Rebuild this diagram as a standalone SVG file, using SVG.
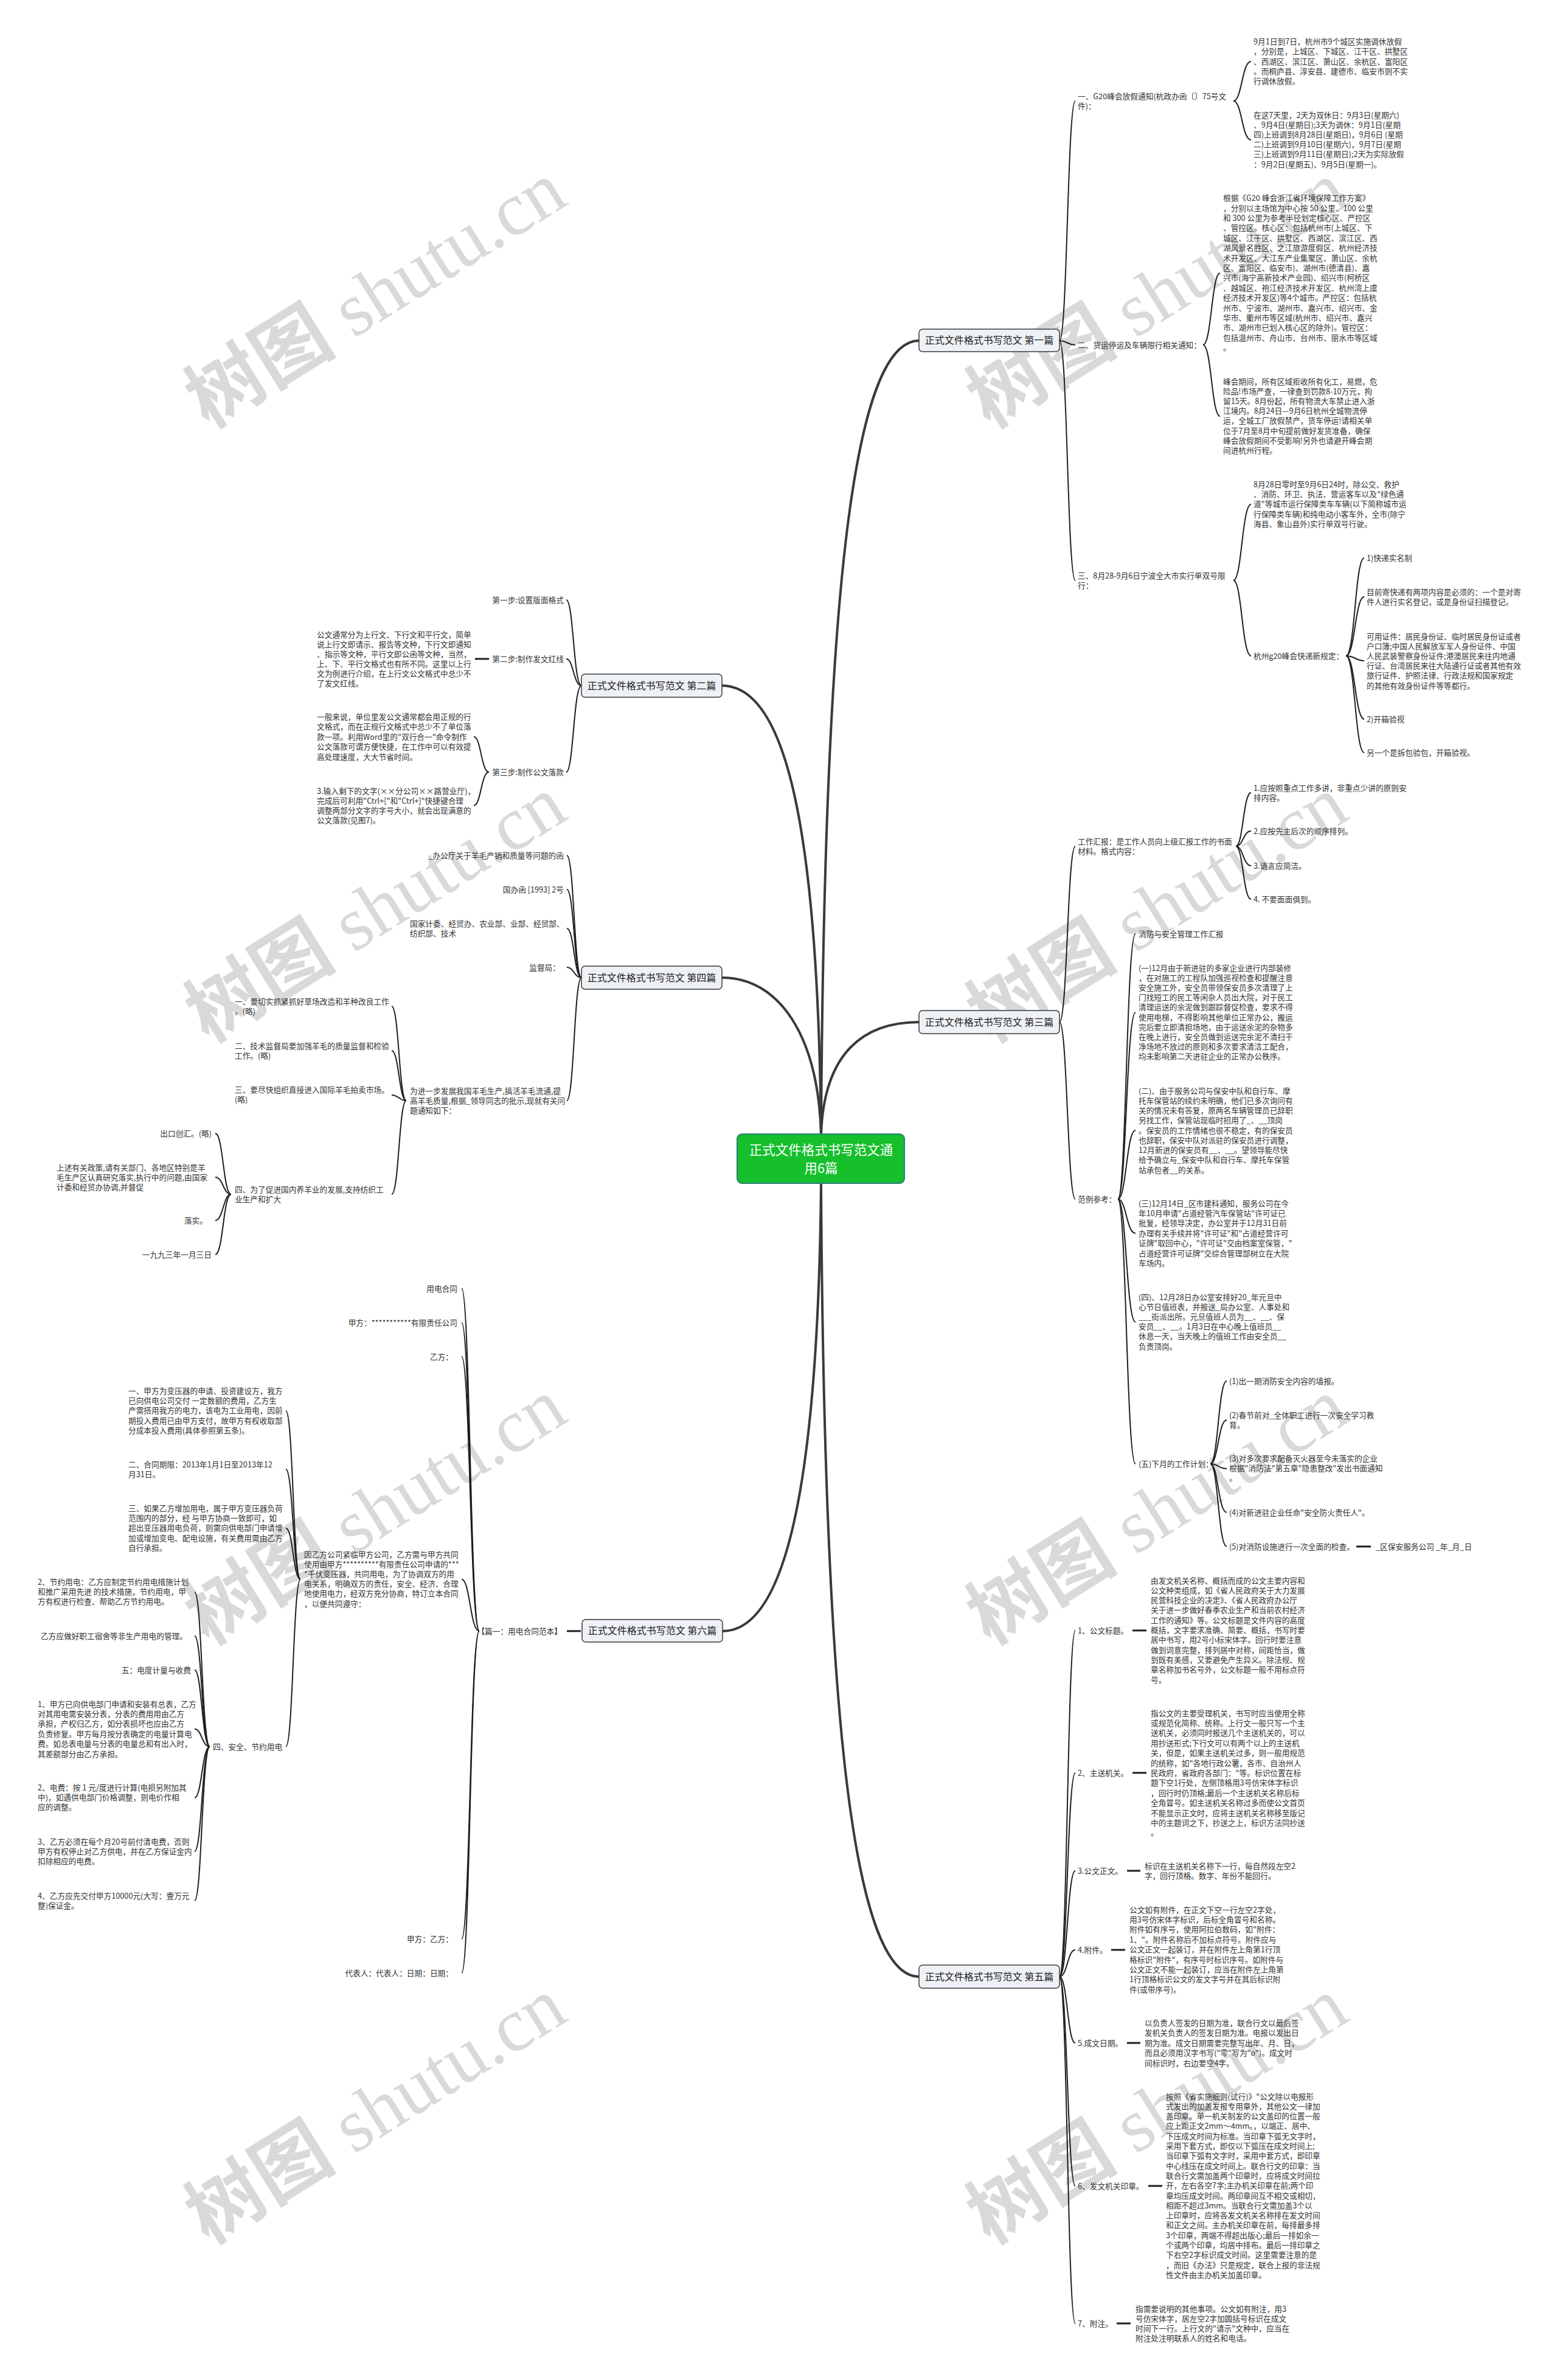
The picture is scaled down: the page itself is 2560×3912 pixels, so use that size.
<svg xmlns="http://www.w3.org/2000/svg" width="2560" height="3912" viewBox="0 0 2560 3912">
<style>
.t{font-family:"Noto Sans CJK SC","Noto Sans",sans-serif;font-size:12.7px;fill:#333}
.e{text-anchor:end}
.bt{font-family:"Noto Sans CJK SC","Noto Sans",sans-serif;font-size:16px;fill:#222;text-anchor:middle}
.rt{font-family:"Noto Sans CJK SC","Noto Sans",sans-serif;font-size:21.5px;fill:#fff;text-anchor:middle}
.box{fill:#eef1f5;stroke:#3a3a3a;stroke-width:1.5}
.root{fill:#16bf2c;stroke:#2c7f7a;stroke-width:2}
.c{fill:none;stroke:#1e1e1e;stroke-width:2}
.m{fill:none;stroke:#3a3a3a;stroke-width:4}
.d{fill:none;stroke:#1e1e1e;stroke-width:3}
.wm{fill:#d9d9d9;text-anchor:middle}
.wc{font-family:"Noto Sans CJK SC",sans-serif;font-weight:bold}
.ws{font-family:"Liberation Serif",serif}
</style>
<g id="watermarks">
<text class="wm" font-size="125" transform="translate(640,520) rotate(-32)"><tspan class="wc">树图</tspan><tspan class="ws"> shutu.cn</tspan></text>
<text class="wm" font-size="125" transform="translate(1925,520) rotate(-32)"><tspan class="wc">树图</tspan><tspan class="ws"> shutu.cn</tspan></text>
<text class="wm" font-size="125" transform="translate(640,1530) rotate(-32)"><tspan class="wc">树图</tspan><tspan class="ws"> shutu.cn</tspan></text>
<text class="wm" font-size="125" transform="translate(1925,1530) rotate(-32)"><tspan class="wc">树图</tspan><tspan class="ws"> shutu.cn</tspan></text>
<text class="wm" font-size="125" transform="translate(640,2520) rotate(-32)"><tspan class="wc">树图</tspan><tspan class="ws"> shutu.cn</tspan></text>
<text class="wm" font-size="125" transform="translate(1925,2520) rotate(-32)"><tspan class="wc">树图</tspan><tspan class="ws"> shutu.cn</tspan></text>
<text class="wm" font-size="125" transform="translate(640,3505) rotate(-32)"><tspan class="wc">树图</tspan><tspan class="ws"> shutu.cn</tspan></text>
<text class="wm" font-size="125" transform="translate(1925,3505) rotate(-32)"><tspan class="wc">树图</tspan><tspan class="ws"> shutu.cn</tspan></text>
</g>
<g id="connectors">
<path class="m" d="M1350 1864 C1355 1000 1400 560 1511 560"/>
<path class="m" d="M1350 1864 C1345 1350 1290 1127 1187 1127"/>
<path class="m" d="M1350 1864 C1355 1730 1420 1680 1511 1680"/>
<path class="m" d="M1350 1864 C1345 1700 1280 1607 1187 1607"/>
<path class="m" d="M1350 1945 C1355 2800 1400 3249 1511 3249"/>
<path class="m" d="M1350 1945 C1345 2450 1290 2681 1188 2681"/>
<path class="c" d="M1742 560 C1755 560 1755 166 1768 166"/>
<path class="c" d="M1742 560 C1755 560 1755 567 1768 567"/>
<path class="c" d="M1742 560 C1755 560 1755 954 1768 954"/>
<path class="c" d="M2028 166 C2042 166 2042 101 2057 101"/>
<path class="c" d="M2028 166 C2042 166 2042 230 2057 230"/>
<path class="c" d="M1978 567 C1992 567 1992 449 2006 449"/>
<path class="c" d="M1978 567 C1992 567 1992 684 2006 684"/>
<path class="c" d="M2028 954 C2042 954 2042 829 2057 829"/>
<path class="c" d="M2028 954 C2042 954 2042 1078 2057 1078"/>
<path class="c" d="M2213 1078 C2228 1078 2228 917 2243 917"/>
<path class="c" d="M2213 1078 C2228 1078 2228 981 2243 981"/>
<path class="c" d="M2213 1078 C2228 1078 2228 1086 2243 1086"/>
<path class="c" d="M2213 1078 C2228 1078 2228 1182 2243 1182"/>
<path class="c" d="M2213 1078 C2228 1078 2228 1237 2243 1237"/>
<path class="c" d="M1742 1680 C1755 1680 1755 1391 1768 1391"/>
<path class="c" d="M1742 1680 C1755 1680 1755 1971 1768 1971"/>
<path class="c" d="M2032 1391 C2044 1391 2044 1303 2057 1303"/>
<path class="c" d="M2032 1391 C2044 1391 2044 1366 2057 1366"/>
<path class="c" d="M2032 1391 C2044 1391 2044 1423 2057 1423"/>
<path class="c" d="M2032 1391 C2044 1391 2044 1478 2057 1478"/>
<path class="c" d="M1838 1971 C1852 1971 1852 1535 1867 1535"/>
<path class="c" d="M1838 1971 C1852 1971 1852 1664 1867 1664"/>
<path class="c" d="M1838 1971 C1852 1971 1852 1858 1867 1858"/>
<path class="c" d="M1838 1971 C1852 1971 1852 2027 1867 2027"/>
<path class="c" d="M1838 1971 C1852 1971 1852 2173 1867 2173"/>
<path class="c" d="M1838 1971 C1852 1971 1852 2406 1867 2406"/>
<path class="c" d="M1990 2406 C2003 2406 2003 2270 2017 2270"/>
<path class="c" d="M1990 2406 C2003 2406 2003 2334 2017 2334"/>
<path class="c" d="M1990 2406 C2003 2406 2003 2414 2017 2414"/>
<path class="c" d="M1990 2406 C2003 2406 2003 2486 2017 2486"/>
<path class="c" d="M1990 2406 C2003 2406 2003 2542 2017 2542"/>
<path class="d" d="M2230 2542 H2254"/>
<path class="c" d="M1742 3249 C1755 3249 1755 2680 1768 2680"/>
<path class="c" d="M1742 3249 C1755 3249 1755 2914 1768 2914"/>
<path class="c" d="M1742 3249 C1755 3249 1755 3075 1768 3075"/>
<path class="c" d="M1742 3249 C1755 3249 1755 3205 1768 3205"/>
<path class="c" d="M1742 3249 C1755 3249 1755 3358 1768 3358"/>
<path class="c" d="M1742 3249 C1755 3249 1755 3593 1768 3593"/>
<path class="c" d="M1742 3249 C1755 3249 1755 3819 1768 3819"/>
<path class="d" d="M1862 2680 H1885"/>
<path class="d" d="M1862 2914 H1885"/>
<path class="d" d="M1853 3075 H1875"/>
<path class="d" d="M1827 3205 H1850"/>
<path class="d" d="M1853 3358 H1875"/>
<path class="d" d="M1888 3593 H1911"/>
<path class="d" d="M1836 3819 H1859"/>
<path class="c" d="M956 1127 C943 1127 943 986 931 986"/>
<path class="c" d="M956 1127 C943 1127 943 1083 931 1083"/>
<path class="c" d="M956 1127 C943 1127 943 1269 931 1269"/>
<path class="d" d="M781 1083 H804"/>
<path class="c" d="M804 1269 C791 1269 791 1211 779 1211"/>
<path class="c" d="M804 1269 C791 1269 791 1324 779 1324"/>
<path class="c" d="M956 1607 C944 1607 944 1406 932 1406"/>
<path class="c" d="M956 1607 C944 1607 944 1462 932 1462"/>
<path class="c" d="M956 1607 C944 1607 944 1526 932 1526"/>
<path class="c" d="M956 1607 C944 1607 944 1590 932 1590"/>
<path class="c" d="M956 1607 C944 1607 944 1809 932 1809"/>
<path class="c" d="M668 1809 C656 1809 656 1654 644 1654"/>
<path class="c" d="M668 1809 C656 1809 656 1727 644 1727"/>
<path class="c" d="M668 1809 C656 1809 656 1800 644 1800"/>
<path class="c" d="M668 1809 C656 1809 656 1963 644 1963"/>
<path class="c" d="M380 1963 C367 1963 367 1863 354 1863"/>
<path class="c" d="M380 1963 C367 1963 367 1935 354 1935"/>
<path class="c" d="M380 1963 C367 1963 367 2006 354 2006"/>
<path class="c" d="M380 1963 C367 1963 367 2062 354 2062"/>
<path class="d" d="M932 2681 H955"/>
<path class="c" d="M788 2681 C773 2681 773 2118 759 2118"/>
<path class="c" d="M788 2681 C773 2681 773 2174 759 2174"/>
<path class="c" d="M788 2681 C773 2681 773 2230 759 2230"/>
<path class="c" d="M788 2681 C773 2681 773 2596 759 2596"/>
<path class="c" d="M788 2681 C773 2681 773 3187 759 3187"/>
<path class="c" d="M788 2681 C773 2681 773 3243 759 3243"/>
<path class="c" d="M494 2596 C482 2596 482 2319 470 2319"/>
<path class="c" d="M494 2596 C482 2596 482 2415 470 2415"/>
<path class="c" d="M494 2596 C482 2596 482 2512 470 2512"/>
<path class="c" d="M494 2596 C482 2596 482 2871 470 2871"/>
<path class="c" d="M345 2871 C332 2871 332 2617 320 2617"/>
<path class="c" d="M345 2871 C332 2871 332 2689 320 2689"/>
<path class="c" d="M345 2871 C332 2871 332 2745 320 2745"/>
<path class="c" d="M345 2871 C332 2871 332 2842 320 2842"/>
<path class="c" d="M345 2871 C332 2871 332 2955 320 2955"/>
<path class="c" d="M345 2871 C332 2871 332 3043 320 3043"/>
<path class="c" d="M345 2871 C332 2871 332 3124 320 3124"/>
</g>
<g id="root"><rect class="root" x="1212" y="1864" width="275" height="81" rx="8"/><text class="rt"><tspan x="1350" y="1897.5">正式文件格式书写范文通</tspan><tspan x="1350" y="1927.5">用6篇</tspan></text></g>
<g id="b1"><rect class="box" x="1511" y="541" width="231" height="37" rx="6"/><text class="bt" x="1626.5" y="565">正式文件格式书写范文 第一篇</text></g>
<g id="b2"><rect class="box" x="956" y="1108" width="231" height="38" rx="6"/><text class="bt" x="1071.5" y="1132.5">正式文件格式书写范文 第二篇</text></g>
<g id="b3"><rect class="box" x="1511" y="1661" width="231" height="38" rx="6"/><text class="bt" x="1626.5" y="1685.5">正式文件格式书写范文 第三篇</text></g>
<g id="b4"><rect class="box" x="956" y="1588" width="231" height="38" rx="6"/><text class="bt" x="1071.5" y="1612.5">正式文件格式书写范文 第四篇</text></g>
<g id="b5"><rect class="box" x="1511" y="3230" width="231" height="38" rx="6"/><text class="bt" x="1626.5" y="3254.5">正式文件格式书写范文 第五篇</text></g>
<g id="b6"><rect class="box" x="957" y="2662" width="231" height="37" rx="6"/><text class="bt" x="1072.5" y="2686">正式文件格式书写范文 第六篇</text></g>

<g id="n1a"><text class="t"><tspan x="1772" y="162.5">一、G20峰会放假通知(杭政办函〔〕75号文</tspan><tspan x="1772" y="178.8">件)：</tspan></text></g>
<g id="n1aA"><text class="t"><tspan x="2061" y="73.1">9月1日到7日，杭州市9个城区实施调休放假</tspan><tspan x="2061" y="89.4">，分别是，上城区、下城区、江干区、拱墅区</tspan><tspan x="2061" y="105.7">、西湖区、滨江区、萧山区、余杭区、富阳区</tspan><tspan x="2061" y="122">。而桐庐县、淳安县、建德市、临安市则不实</tspan><tspan x="2061" y="138.3">行调休放假。</tspan></text></g>
<g id="n1aB"><text class="t"><tspan x="2061" y="193.5">在这7天里，2天为双休日：9月3日(星期六)</tspan><tspan x="2061" y="209.7">、9月4日(星期日);3天为调休：9月1日(星期</tspan><tspan x="2061" y="225.9">四)上班调到8月28日(星期日)，9月6日 (星期</tspan><tspan x="2061" y="242.1">二)上班调到9月10日(星期六)，9月7日(星期</tspan><tspan x="2061" y="258.3">三)上班调到9月11日(星期日);2天为实际放假</tspan><tspan x="2061" y="274.5">：9月2日(星期五)、9月5日(星期一)。</tspan></text></g>
<g id="n1b"><text class="t" x="1772" y="571.5">二、货运停运及车辆限行相关通知：</text></g>
<g id="n1bC"><text class="t"><tspan x="2011" y="330.1">根据《G20 峰会浙江省环境保障工作方案》</tspan><tspan x="2011" y="346.5">，分别以主场馆为中心按 50 公里、100 公里</tspan><tspan x="2011" y="362.9">和 300 公里为参考半径划定核心区、严控区</tspan><tspan x="2011" y="379.3">、管控区。核心区：包括杭州市(上城区、下</tspan><tspan x="2011" y="395.7">城区、江干区、拱墅区、西湖区、滨江区、西</tspan><tspan x="2011" y="412.1">湖风景名胜区、之江旅游度假区、杭州经济技</tspan><tspan x="2011" y="428.5">术开发区、大江东产业集聚区、萧山区、余杭</tspan><tspan x="2011" y="444.9">区、富阳区、临安市)、湖州市(德清县)、嘉</tspan><tspan x="2011" y="461.3">兴市(海宁高新技术产业园)、绍兴市(柯桥区</tspan><tspan x="2011" y="477.7">、越城区、袍江经济技术开发区、杭州湾上虞</tspan><tspan x="2011" y="494.1">经济技术开发区)等4个城市。严控区：包括杭</tspan><tspan x="2011" y="510.5">州市、宁波市、湖州市、嘉兴市、绍兴市、金</tspan><tspan x="2011" y="526.9">华市、衢州市等区域(杭州市、绍兴市、嘉兴</tspan><tspan x="2011" y="543.3">市、湖州市已划入核心区的除外)。管控区：</tspan><tspan x="2011" y="559.7">包括温州市、舟山市、台州市、丽水市等区域</tspan><tspan x="2011" y="576.1">。</tspan></text></g>
<g id="n1bD"><text class="t"><tspan x="2011" y="631.5">峰会期间，所有区域拒收所有化工，易燃，危</tspan><tspan x="2011" y="647.7">险品!市场严查，一律查到罚款8-10万元，拘</tspan><tspan x="2011" y="663.9">留15天。8月份起，所有物流大车禁止进入浙</tspan><tspan x="2011" y="680.1">江境内。8月24日—9月6日杭州全城物流停</tspan><tspan x="2011" y="696.3">运，全城工厂放假禁产，货车停运!请相关单</tspan><tspan x="2011" y="712.5">位于7月至8月中旬提前做好发货准备，确保</tspan><tspan x="2011" y="728.7">峰会放假期间不受影响!另外也请避开峰会期</tspan><tspan x="2011" y="744.9">间进杭州行程。</tspan></text></g>
<g id="n1c"><text class="t"><tspan x="1772" y="950.5">三、8月28-9月6日宁波全大市实行单双号限</tspan><tspan x="1772" y="966.8">行：</tspan></text></g>
<g id="n1cE"><text class="t"><tspan x="2061" y="800.5">8月28日零时至9月6日24时，除公交、救护</tspan><tspan x="2061" y="816.9">、消防、环卫、执法、营运客车以及"绿色通</tspan><tspan x="2061" y="833.3">道"等城市运行保障类车车辆(以下简称城市运</tspan><tspan x="2061" y="849.7">行保障类车辆)和纯电动小客车外，全市(除宁</tspan><tspan x="2061" y="866.1">海县、象山县外)实行单双号行驶。</tspan></text></g>
<g id="n1cF"><text class="t" x="2061" y="1082.5">杭州g20峰会快递新规定：</text></g>
<g id="n1cF1"><text class="t" x="2247" y="921.5">1)快递实名制</text></g>
<g id="n1cF2"><text class="t"><tspan x="2247" y="977.5">目前寄快递有两项内容是必须的：一个是对寄</tspan><tspan x="2247" y="993.7">件人进行实名登记，或是身份证扫描登记。</tspan></text></g>
<g id="n1cF3"><text class="t"><tspan x="2247" y="1050.5">可用证件：居民身份证、临时居民身份证或者</tspan><tspan x="2247" y="1066.7">户口簿;中国人民解放军军人身份证件、中国</tspan><tspan x="2247" y="1082.9">人民武装警察身份证件;港澳居民来往内地通</tspan><tspan x="2247" y="1099.1">行证、台湾居民来往大陆通行证或者其他有效</tspan><tspan x="2247" y="1115.3">旅行证件、护照法律、行政法规和国家规定</tspan><tspan x="2247" y="1131.5">的其他有效身份证件等等都行。</tspan></text></g>
<g id="n1cF4"><text class="t" x="2247" y="1186.5">2)开箱验视</text></g>
<g id="n1cF5"><text class="t" x="2247" y="1241.5">另一个是拆包验包，开箱验视。</text></g>

<g id="n3a"><text class="t"><tspan x="1772" y="1387.5">工作汇报：是工作人员向上级汇报工作的书面</tspan><tspan x="1772" y="1403.8">材料。格式内容：</tspan></text></g>
<g id="n3a1"><text class="t"><tspan x="2061" y="1299.5">1.应按照重点工作多讲，非重点少讲的原则安</tspan><tspan x="2061" y="1315.8">排内容。</tspan></text></g>
<g id="n3a2"><text class="t" x="2061" y="1370.5">2.应按先主后次的顺序排列。</text></g>
<g id="n3a3"><text class="t" x="2061" y="1427.5">3.语言应简洁。</text></g>
<g id="n3a4"><text class="t" x="2061" y="1482.5">4. 不要面面俱到。</text></g>
<g id="n3b"><text class="t" x="1772" y="1975.5">范例参考：</text></g>
<g id="n3b0"><text class="t" x="1872" y="1539.5">消防与安全管理工作汇报</text></g>
<g id="n3b1"><text class="t"><tspan x="1872" y="1595.5">(一)12月由于新进驻的多家企业进行内部装修</tspan><tspan x="1872" y="1611.7">，在对施工的工程队加强巡视检查和提醒注意</tspan><tspan x="1872" y="1627.9">安全施工外，安全员带领保安员多次清理了上</tspan><tspan x="1872" y="1644.1">门找短工的民工等闲杂人员出大院，对于民工</tspan><tspan x="1872" y="1660.3">清理运送的余泥做到跟踪督促检查，要求不得</tspan><tspan x="1872" y="1676.5">使用电梯，不得影响其他单位正常办公，搬运</tspan><tspan x="1872" y="1692.7">完后要立即清担场地，由于运送余泥的杂物多</tspan><tspan x="1872" y="1708.9">在晚上进行，安全员做到运送完余泥不清扫干</tspan><tspan x="1872" y="1725.1">净场地不放过的原则和多次要求清洁工配合，</tspan><tspan x="1872" y="1741.3">均未影响第二天进驻企业的正常办公秩序。</tspan></text></g>
<g id="n3b2"><text class="t"><tspan x="1872" y="1797.5">(二)、由于服务公司与保安中队和自行车、摩</tspan><tspan x="1872" y="1813.8">托车保管站的续约未明确，他们已多次询问有</tspan><tspan x="1872" y="1830">关的情况未有答复，原两名车辆管理员已辞职</tspan><tspan x="1872" y="1846.3">另找工作，保管站现临时招用了_、__顶岗</tspan><tspan x="1872" y="1862.5">。保安员的工作情绪也很不稳定，有的保安员</tspan><tspan x="1872" y="1878.8">也辞职，保安中队对派驻的保安员进行调整，</tspan><tspan x="1872" y="1895">12月新进的保安员有__、__。望领导能尽快</tspan><tspan x="1872" y="1911.3">给予确立与_保安中队和自行车、摩托车保管</tspan><tspan x="1872" y="1927.5">站承包者__的关系。</tspan></text></g>
<g id="n3b3"><text class="t"><tspan x="1872" y="1982.5">(三)12月14日_区市建科通知，服务公司在今</tspan><tspan x="1872" y="1999">年10月申请"占道经管汽车保管站"许可证已</tspan><tspan x="1872" y="2015.4">批复，经领导决定，办公室并于12月31日前</tspan><tspan x="1872" y="2031.9">办理有关手续并将"许可证"和"占道经营许可</tspan><tspan x="1872" y="2048.3">证牌"取回中心，"许可证"交由档案室保管，"</tspan><tspan x="1872" y="2064.8">占道经营许可证牌"交综合管理部树立在大院</tspan><tspan x="1872" y="2081.2">车场内。</tspan></text></g>
<g id="n3b4"><text class="t"><tspan x="1872" y="2136.5">(四)、12月28日办公室安排好20_年元旦中</tspan><tspan x="1872" y="2152.7">心节日值班表，并报送_局办公室、人事处和</tspan><tspan x="1872" y="2168.9">___街派出所。元旦值班人员为__、__、保</tspan><tspan x="1872" y="2185.1">安员__、__。1月3日在中心晚上值班员__</tspan><tspan x="1872" y="2201.3">休息一天，当天晚上的值班工作由安全员__</tspan><tspan x="1872" y="2217.5">负责顶岗。</tspan></text></g>
<g id="n3b5"><text class="t" x="1872" y="2410.5">(五)下月的工作计划：</text></g>
<g id="n3b51"><text class="t" x="2021" y="2274.5">(1)出一期消防安全内容的墙报。</text></g>
<g id="n3b52"><text class="t"><tspan x="2021" y="2330.5">(2)春节前对_全体职工进行一次安全学习教</tspan><tspan x="2021" y="2346.7">育。</tspan></text></g>
<g id="n3b53"><text class="t"><tspan x="2021" y="2401.5">(3)对多次要求配备灭火器至今未落实的企业</tspan><tspan x="2021" y="2417.8">根据"消防法"第五章"隐患整改"发出书面通知</tspan><tspan x="2021" y="2434.1">。</tspan></text></g>
<g id="n3b54"><text class="t" x="2021" y="2490.5">(4)对新进驻企业任命"安全防火责任人"。</text></g>
<g id="n3b55"><text class="t" x="2021" y="2546.5">(5)对消防设施进行一次全面的检查。</text></g>
<g id="n3b56"><text class="t" x="2262" y="2546.5">_区保安服务公司 _年_月_日</text></g>

<g id="n5a"><text class="t" x="1772" y="2684.5">1、公文标题。</text></g>
<g id="n5aT"><text class="t"><tspan x="1892" y="2602.5">由发文机关名称、概括而成的公文主要内容和</tspan><tspan x="1892" y="2618.8">公文种类组成，如《省人民政府关于大力发展</tspan><tspan x="1892" y="2635.1">民营科技企业的决定》、《省人民政府办公厅</tspan><tspan x="1892" y="2651.4">关于进一步做好春季农业生产和当前农村经济</tspan><tspan x="1892" y="2667.7">工作的通知》等。公文标题是文件内容的高度</tspan><tspan x="1892" y="2684">概括，文字要求准确、简要、概括，书写时要</tspan><tspan x="1892" y="2700.3">居中书写，用2号小标宋体字。回行时要注意</tspan><tspan x="1892" y="2716.6">做到词意完整，排列居中对称，间距恰当，做</tspan><tspan x="1892" y="2732.9">到既有美感，又要避免产生异义。除法规、规</tspan><tspan x="1892" y="2749.2">章名称加书名号外，公文标题一般不用标点符</tspan><tspan x="1892" y="2765.5">号。</tspan></text></g>
<g id="n5b"><text class="t" x="1772" y="2918.5">2、主送机关。</text></g>
<g id="n5bT"><text class="t"><tspan x="1892" y="2820.5">指公文的主要受理机关，书写时应当使用全称</tspan><tspan x="1892" y="2836.9">或规范化简称、统称。上行文一般只写一个主</tspan><tspan x="1892" y="2853.3">送机关，必须同时报送几个主送机关的，可以</tspan><tspan x="1892" y="2869.7">用抄送形式;下行文可以有两个以上的主送机</tspan><tspan x="1892" y="2886.1">关，但是，如果主送机关过多，则一般用规范</tspan><tspan x="1892" y="2902.5">的统称，如"各地行政公署，各市、自治州人</tspan><tspan x="1892" y="2918.9">民政府，省政府各部门："等。标识位置在标</tspan><tspan x="1892" y="2935.3">题下空1行处，左侧顶格用3号仿宋体字标识</tspan><tspan x="1892" y="2951.7">，回行时仍顶格;最后一个主送机关名称后标</tspan><tspan x="1892" y="2968.1">全角冒号。如主送机关名称过多而使公文首页</tspan><tspan x="1892" y="2984.5">不能显示正文时，应将主送机关名称移至版记</tspan><tspan x="1892" y="3000.9">中的主题词之下，抄送之上，标识方法同抄送</tspan><tspan x="1892" y="3017.3">。</tspan></text></g>
<g id="n5c"><text class="t" x="1772" y="3079.5">3.公文正文。</text></g>
<g id="n5cT"><text class="t"><tspan x="1882" y="3071.5">标识在主送机关名称下一行，每自然段左空2</tspan><tspan x="1882" y="3088">字，回行顶格。数字、年份不能回行。</tspan></text></g>
<g id="n5d"><text class="t" x="1772" y="3209.5">4.附件。</text></g>
<g id="n5dT"><text class="t"><tspan x="1857" y="3143.5">公文如有附件，在正文下空一行左空2字处，</tspan><tspan x="1857" y="3159.9">用3号仿宋体字标识，后标全角冒号和名称。</tspan><tspan x="1857" y="3176.3">附件如有序号，使用阿拉伯数码，如"附件：</tspan><tspan x="1857" y="3192.7">1、"。附件名称后不加标点符号。附件应与</tspan><tspan x="1857" y="3209.1">公文正文一起装订，并在附件左上角第1行顶</tspan><tspan x="1857" y="3225.5">格标识"附件"，有序号时标识序号。如附件与</tspan><tspan x="1857" y="3241.9">公文正文不能一起装订，应当在附件左上角第</tspan><tspan x="1857" y="3258.3">1行顶格标识公文的发文字号并在其后标识附</tspan><tspan x="1857" y="3274.7">件(或带序号)。</tspan></text></g>
<g id="n5e"><text class="t" x="1772" y="3362.5">5.成文日期。</text></g>
<g id="n5eT"><text class="t"><tspan x="1882" y="3329.5">以负责人签发的日期为准，联合行文以最后签</tspan><tspan x="1882" y="3346">发机关负责人的签发日期为准。电报以发出日</tspan><tspan x="1882" y="3362.5">期为准。成文日期需要完整写出年、月、日，</tspan><tspan x="1882" y="3379">而且必须用汉字书写("零"写为"o")。成文时</tspan><tspan x="1882" y="3395.5">间标识时，右边要空4字。</tspan></text></g>
<g id="n5f"><text class="t" x="1772" y="3597.5">6、发文机关印章。</text></g>
<g id="n5fT"><text class="t"><tspan x="1917" y="3450.5">按照《省实施细则(试行)》"公文除以电报形</tspan><tspan x="1917" y="3466.8">式发出的加盖发报专用章外，其他公文一律加</tspan><tspan x="1917" y="3483.1">盖印章。单一机关制发的公文盖印的位置一般</tspan><tspan x="1917" y="3499.4">应上距正文2mm～4mm。，以端正、居中、</tspan><tspan x="1917" y="3515.7">下压成文时间为标准。当印章下弧无文字时，</tspan><tspan x="1917" y="3532">采用下套方式，即仅以下弧压在成文时间上;</tspan><tspan x="1917" y="3548.3">当印章下弧有文字时，采用中套方式，即印章</tspan><tspan x="1917" y="3564.6">中心线压在成文时间上。联合行文的印章：当</tspan><tspan x="1917" y="3580.9">联合行文需加盖两个印章时，应将成文时间拉</tspan><tspan x="1917" y="3597.2">开，左右各空7字;主办机关印章在前;两个印</tspan><tspan x="1917" y="3613.5">章均压成文时间。两印章间互不相交或相切，</tspan><tspan x="1917" y="3629.8">相距不超过3mm。当联合行文需加盖3个以</tspan><tspan x="1917" y="3646.1">上印章时，应将各发文机关名称排在发文时间</tspan><tspan x="1917" y="3662.4">和正文之间。主办机关印章在前，每排最多排</tspan><tspan x="1917" y="3678.7">3个印章，两端不得超出版心;最后一排如余一</tspan><tspan x="1917" y="3695">个或两个印章，均居中排布。最后一排印章之</tspan><tspan x="1917" y="3711.3">下右空2字标识成文时间。这里需要注意的是</tspan><tspan x="1917" y="3727.6">，而旧《办法》只是规定，联合上报的非法规</tspan><tspan x="1917" y="3743.9">性文件由主办机关加盖印章。</tspan></text></g>
<g id="n5g"><text class="t" x="1772" y="3823.5">7、附注。</text></g>
<g id="n5gT"><text class="t"><tspan x="1867" y="3799.5">指需要说明的其他事项。公文如有附注，用3</tspan><tspan x="1867" y="3815.8">号仿宋体字，居左空2字加圆括号标识在成文</tspan><tspan x="1867" y="3832.1">时间下一行。上行文的"请示"文种中，应当在</tspan><tspan x="1867" y="3848.4">附注处注明联系人的姓名和电话。</tspan></text></g>

<g id="n2a"><text class="t e" x="927" y="990.5">第一步:设置版面格式</text></g>
<g id="n2b"><text class="t e" x="927" y="1087.5">第二步:制作发文红线</text></g>
<g id="n2bT"><text class="t"><tspan x="521" y="1047.5">公文通常分为上行文、下行文和平行文，简单</tspan><tspan x="521" y="1063.5">说上行文即请示、报告等文种，下行文即通知</tspan><tspan x="521" y="1079.5">、指示等文种，平行文即公函等文种，当然，</tspan><tspan x="521" y="1095.5">上、下、平行文格式也有所不同。这里以上行</tspan><tspan x="521" y="1111.5">文为例进行介绍，在上行文公文格式中总少不</tspan><tspan x="521" y="1127.5">了发文红线。</tspan></text></g>
<g id="n2c"><text class="t e" x="927" y="1273.5">第三步:制作公文落款</text></g>
<g id="n2c1"><text class="t"><tspan x="521" y="1182.5">一般来说，单位里发公文通常都会用正规的行</tspan><tspan x="521" y="1199">文格式，而在正规行文格式中总少不了单位落</tspan><tspan x="521" y="1215.5">款一项。利用Word里的"双行合一"命令制作</tspan><tspan x="521" y="1232">公文落款可谓方便快捷，在工作中可以有效提</tspan><tspan x="521" y="1248.5">高处理速度，大大节省时间。</tspan></text></g>
<g id="n2c2"><text class="t"><tspan x="521" y="1304.5">3.输入剩下的文字(××分公司××路营业厅)，</tspan><tspan x="521" y="1320.8">完成后可利用"Ctrl+["和"Ctrl+]"快捷键合理</tspan><tspan x="521" y="1337.1">调整两部分文字的字号大小，就会出现满意的</tspan><tspan x="521" y="1353.4">公文落款(见图7)。</tspan></text></g>

<g id="n4a"><text class="t e" x="927" y="1410.5">_办公厅关于羊毛产销和质量等问题的函</text></g>
<g id="n4b"><text class="t e" x="927" y="1466.5">国办函 [1993] 2号</text></g>
<g id="n4c"><text class="t"><tspan x="674" y="1522.5">国家计委、经贸办、农业部、业部、经贸部、</tspan><tspan x="674" y="1538.8">纺织部、技术</tspan></text></g>
<g id="n4d"><text class="t e" x="921" y="1594.5">监督局：</text></g>
<g id="n4e"><text class="t"><tspan x="674" y="1797.5">为进一步发展我国羊毛生产,搞活羊毛流通,提</tspan><tspan x="674" y="1813.8">高羊毛质量,根据_领导同志的批示,现就有关问</tspan><tspan x="674" y="1830.1">题通知如下：</tspan></text></g>
<g id="n4e1"><text class="t"><tspan x="386" y="1650.5">一、要切实抓紧抓好草场改造和羊种改良工作</tspan><tspan x="386" y="1666.8">。(略)</tspan></text></g>
<g id="n4e2"><text class="t"><tspan x="386" y="1723.5">二、技术监督局要加强羊毛的质量监督和检验</tspan><tspan x="386" y="1739.8">工作。(略)</tspan></text></g>
<g id="n4e3"><text class="t"><tspan x="386" y="1795.5">三、要尽快组织直接进入国际羊毛拍卖市场。</tspan><tspan x="386" y="1811.8">(略)</tspan></text></g>
<g id="n4e4"><text class="t"><tspan x="386" y="1959.5">四、为了促进国内养羊业的发展,支持纺织工</tspan><tspan x="386" y="1975.8">业生产和扩大</tspan></text></g>
<g id="n4e41"><text class="t e" x="348" y="1867.5">出口创汇。(略)</text></g>
<g id="n4e42"><text class="t"><tspan x="93" y="1923.5">上述有关政策,请有关部门、各地区特别是羊</tspan><tspan x="93" y="1939.8">毛生产区认真研究落实,执行中的问题,由国家</tspan><tspan x="93" y="1956.1">计委和经贸办协调,并督促</tspan></text></g>
<g id="n4e43"><text class="t e" x="341" y="2010.5">落实。</text></g>
<g id="n4e44"><text class="t e" x="348" y="2066.5">一九九三年一月三日</text></g>

<g id="n6a"><text class="t e" x="924" y="2685.5">【篇一：用电合同范本】</text></g>
<g id="n6a1"><text class="t e" x="752" y="2122.5">用电合同</text></g>
<g id="n6a2"><text class="t e" x="752" y="2178.5">甲方：***********有限责任公司</text></g>
<g id="n6a3"><text class="t e" x="745" y="2234.5">乙方：</text></g>
<g id="n6a4"><text class="t"><tspan x="500" y="2559.5">因乙方公司紧临甲方公司，乙方需与甲方共同</tspan><tspan x="500" y="2575.7">使用由甲方**********有限责任公司申请的***</tspan><tspan x="500" y="2591.9">*千伏变压器，共同用电，为了协调双方的用</tspan><tspan x="500" y="2608.1">电关系，明确双方的责任，安全、经济、合理</tspan><tspan x="500" y="2624.3">地使用电力，经双方充分协商，特订立本合同</tspan><tspan x="500" y="2640.5">，以便共同遵守：</tspan></text></g>
<g id="n6a41"><text class="t"><tspan x="211" y="2290.5">一、甲方为变压器的申请、投资建设方，我方</tspan><tspan x="211" y="2306.9">已向供电公司交付 一定数额的费用，乙方生</tspan><tspan x="211" y="2323.3">产需搭用我方的电力，该电为工业用电，因前</tspan><tspan x="211" y="2339.7">期投入费用已由甲方支付，故甲方有权收取部</tspan><tspan x="211" y="2356.1">分成本投入费用(具体参照第五条)。</tspan></text></g>
<g id="n6a42"><text class="t"><tspan x="211" y="2411.5">二、合同期限：2013年1月1日至2013年12</tspan><tspan x="211" y="2427.8">月31日。</tspan></text></g>
<g id="n6a43"><text class="t"><tspan x="211" y="2483.5">三、如果乙方增加用电，属于甲方变压器负荷</tspan><tspan x="211" y="2499.9">范围内的部分，经 与甲方协商一致即可，如</tspan><tspan x="211" y="2516.3">超出变压器用电负荷，则需向供电部门申请增</tspan><tspan x="211" y="2532.7">加或增加变电、配电设施，有关费用需由乙方</tspan><tspan x="211" y="2549.1">自行承担。</tspan></text></g>
<g id="n6a44"><text class="t" x="350" y="2875.5">四、安全、节约用电</text></g>
<g id="n6a441"><text class="t"><tspan x="62" y="2604.5">2、节约用电：乙方应制定节约用电措施计划</tspan><tspan x="62" y="2620.9">和推广采用先进 的技术措施，节约用电，甲</tspan><tspan x="62" y="2637.3">方有权进行检查、帮助乙方节约用电。</tspan></text></g>
<g id="n6a442"><text class="t e" x="308" y="2693.5">乙方应做好职工宿舍等非生产用电的管理。</text></g>
<g id="n6a443"><text class="t e" x="314" y="2749.5">五：电度计量与收费</text></g>
<g id="n6a444"><text class="t"><tspan x="62" y="2805.5">1、甲方已向供电部门申请和安装有总表，乙方</tspan><tspan x="62" y="2821.9">对其用电需安装分表，分表的费用用由乙方</tspan><tspan x="62" y="2838.3">承担，产权归乙方，如分表损坏也应由乙方</tspan><tspan x="62" y="2854.7">负责修复。甲方每月按分表确定的电量计算电</tspan><tspan x="62" y="2871.1">费。如总表电量与分表的电量总和有出入时，</tspan><tspan x="62" y="2887.5">其差额部分由乙方承担。</tspan></text></g>
<g id="n6a445"><text class="t"><tspan x="62" y="2942.5">2、电费：按 1 元/度进行计算(电损另附加其</tspan><tspan x="62" y="2958.9">中)，如遇供电部门价格调整，则电价作相</tspan><tspan x="62" y="2975.3">应的调整。</tspan></text></g>
<g id="n6a446"><text class="t"><tspan x="62" y="3031.5">3、乙方必须在每个月20号前付清电费，否则</tspan><tspan x="62" y="3047.9">甲方有权停止对乙方供电，并在乙方保证金内</tspan><tspan x="62" y="3064.3">扣除相应的电费。</tspan></text></g>
<g id="n6a447"><text class="t"><tspan x="62" y="3120.5">4、乙方应先交付甲方10000元(大写：壹万元</tspan><tspan x="62" y="3136.9">整)保证金。</tspan></text></g>
<g id="n6a5"><text class="t e" x="745" y="3191.5">甲方：乙方：</text></g>
<g id="n6a6"><text class="t e" x="745" y="3247.5">代表人：代表人：日期：日期：</text></g>
</svg>
